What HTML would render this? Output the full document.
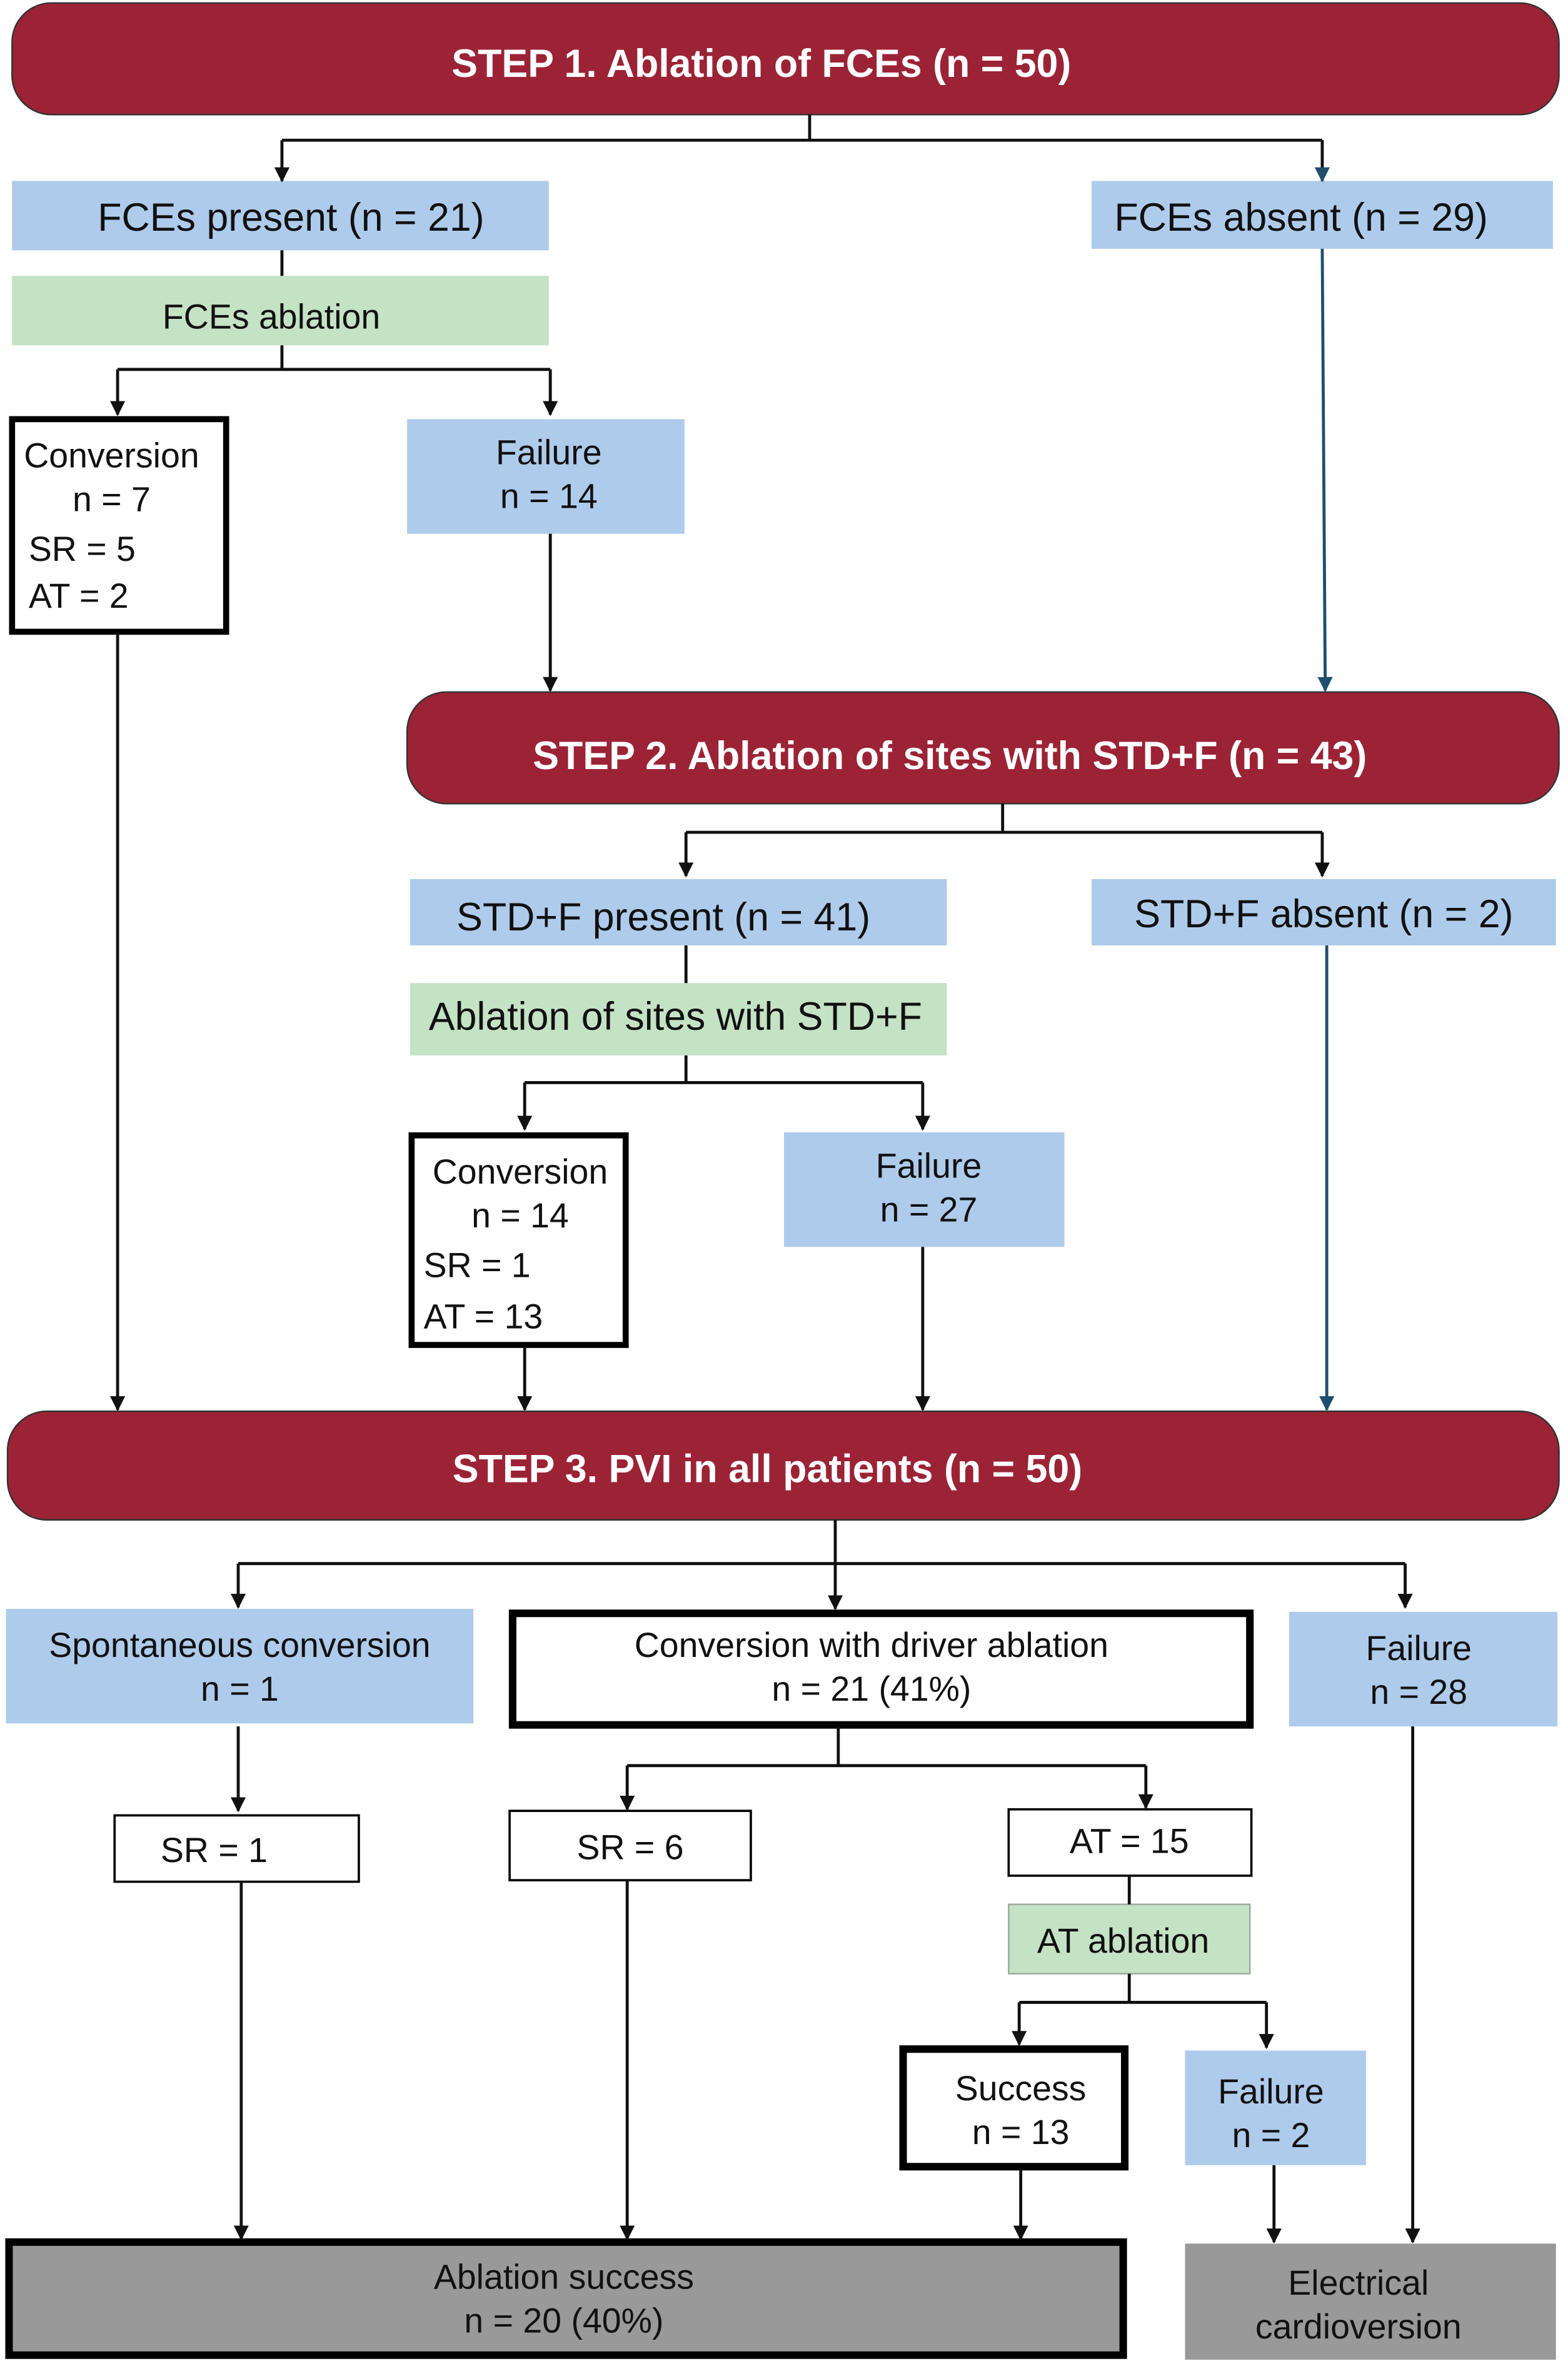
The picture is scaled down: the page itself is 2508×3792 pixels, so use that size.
<!DOCTYPE html>
<html><head><meta charset="utf-8"><style>
html,body{margin:0;padding:0;background:#fff;}
svg{display:block;}
text{font-family:"Liberation Sans",sans-serif;fill:#111;}
.w{fill:#fff;font-weight:bold;font-size:26px;}
.t{font-size:26px;}
.s{font-size:23px;}
.l{stroke:#111;stroke-width:2;fill:none;}
</style></head><body>
<svg width="2508" height="3792" viewBox="0 0 1040 1572.5" preserveAspectRatio="none" xmlns="http://www.w3.org/2000/svg">
<defs><marker id="a" viewBox="0 0 10 10" refX="9" refY="5" markerWidth="5" markerHeight="5" orient="auto"><path d="M0,0L10,5L0,10z" fill="#111"/></marker>
<marker id="b" viewBox="0 0 10 10" refX="9" refY="5" markerWidth="5" markerHeight="5" orient="auto"><path d="M0,0L10,5L0,10z" fill="#1f4e6e"/></marker></defs>
<g stroke="#333" stroke-width="1">
<rect x="8" y="2" width="1026" height="74" rx="26" fill="#9b2335"/>
<rect x="270" y="459" width="764" height="74" rx="26" fill="#9b2335"/>
<rect x="5" y="936" width="1029" height="72" rx="26" fill="#9b2335"/>
</g>
<text class="w" x="505" y="51" text-anchor="middle">STEP 1. Ablation of FCEs (n = 50)</text>
<text class="w" x="630" y="510" text-anchor="middle">STEP 2. Ablation of sites with STD+F (n = 43)</text>
<text class="w" x="509" y="983" text-anchor="middle">STEP 3. PVI in all patients  (n = 50)</text>
<g fill="#aecbeb">
<rect x="8" y="120" width="356" height="46"/><rect x="724" y="120" width="306" height="45"/>
<rect x="270" y="278" width="184" height="76"/>
<rect x="272" y="583" width="356" height="44"/><rect x="724" y="583" width="308" height="44"/>
<rect x="520" y="751" width="186" height="76"/>
<rect x="4" y="1067" width="310" height="76"/><rect x="855" y="1069" width="178" height="76"/>
<rect x="786" y="1360" width="120" height="76"/>
</g>
<g fill="#c4e2c4">
<rect x="8" y="183" width="356" height="46"/><rect x="272" y="652" width="356" height="48"/>
<rect x="669" y="1263" width="160" height="46" stroke="#9a9" stroke-width="1"/>
</g>
<g fill="#fff" stroke="#000">
<rect x="8" y="278" width="142" height="141" stroke-width="4"/>
<rect x="273" y="753" width="142" height="139" stroke-width="4"/>
<rect x="340" y="1070" width="489" height="74" stroke-width="5"/>
<rect x="76" y="1204" width="162" height="44" stroke-width="1.5"/>
<rect x="338" y="1201" width="160" height="46" stroke-width="1.5"/>
<rect x="669" y="1200" width="161" height="44" stroke-width="1.5"/>
<rect x="599" y="1359" width="147" height="78" stroke-width="5"/>
</g>
<rect x="6" y="1487" width="739" height="75" fill="#999" stroke="#000" stroke-width="5"/>
<rect x="786" y="1488" width="246" height="77" fill="#999"/>
<g class="l">
<path d="M537 76V93M187 93H877"/><path d="M187 93V120" marker-end="url(#a)"/><path d="M877 93V120" marker-end="url(#b)"/>
<path d="M187 166V183M187 229V245M78 245H365"/><path d="M78 245V275" marker-end="url(#a)"/><path d="M365 245V275" marker-end="url(#a)"/>
<path d="M365 354V458" marker-end="url(#a)"/><path d="M877 165L879 458" stroke="#1f4e6e" marker-end="url(#b)"/>
<path d="M665 533V552M455 552H877"/><path d="M455 552V581" marker-end="url(#a)"/><path d="M877 552V581" marker-end="url(#a)"/>
<path d="M455 627V652M455 700V718M348 718H612"/><path d="M348 718V749" marker-end="url(#a)"/><path d="M612 718V749" marker-end="url(#a)"/>
<path d="M78 420V935" marker-end="url(#a)"/><path d="M348 893V935" marker-end="url(#a)"/><path d="M612 827V935" marker-end="url(#a)"/><path d="M880 627V935" marker-end="url(#b)" stroke="#1f4e6e"/>
<path d="M554 1008V1067" marker-end="url(#a)"/><path d="M158 1037H932"/><path d="M158 1037V1066" marker-end="url(#a)"/><path d="M932 1037V1066" marker-end="url(#a)"/>
<path d="M158 1145V1201" marker-end="url(#a)"/>
<path d="M556 1145V1171M416 1171H760"/><path d="M416 1171V1200" marker-end="url(#a)"/><path d="M760 1171V1199" marker-end="url(#a)"/>
<path d="M749 1244V1263M749 1309V1328M676 1328H840"/><path d="M676 1328V1356" marker-end="url(#a)"/><path d="M840 1328V1358" marker-end="url(#a)"/>
<path d="M160 1248V1485" marker-end="url(#a)"/><path d="M416 1247V1485" marker-end="url(#a)"/><path d="M677 1438V1485" marker-end="url(#a)"/><path d="M845 1436V1487" marker-end="url(#a)"/><path d="M937 1145V1487" marker-end="url(#a)"/>
</g>
<g class="t" text-anchor="middle">
<text x="193" y="153">FCEs present (n = 21)</text><text x="863" y="153">FCEs absent (n = 29)</text>
<text x="180" y="218" class="s">FCEs ablation</text>
<text x="74" y="310" class="s">Conversion</text><text x="74" y="339" class="s">n = 7</text>
<text x="364" y="308" class="s">Failure</text><text x="364" y="337" class="s">n = 14</text>
<text x="440" y="617">STD+F present (n = 41)</text><text x="878" y="615">STD+F absent (n = 2)</text>
<text x="448" y="683">Ablation of sites with STD+F</text>
<text x="345" y="785" class="s">Conversion</text><text x="345" y="814" class="s">n = 14</text>
<text x="616" y="781" class="s">Failure</text><text x="616" y="810" class="s">n = 27</text>
<text x="159" y="1099" class="s">Spontaneous conversion</text><text x="159" y="1128" class="s">n = 1</text>
<text x="578" y="1099" class="s">Conversion with driver ablation</text><text x="578" y="1128" class="s">n = 21 (41%)</text>
<text x="941" y="1101" class="s">Failure</text><text x="941" y="1130" class="s">n = 28</text>
<text x="142" y="1235" class="s">SR = 1</text><text x="418" y="1233" class="s">SR = 6</text><text x="749" y="1229" class="s">AT = 15</text>
<text x="745" y="1295" class="s">AT ablation</text>
<text x="677" y="1393" class="s">Success</text><text x="677" y="1422" class="s">n = 13</text>
<text x="843" y="1395" class="s">Failure</text><text x="843" y="1424" class="s">n = 2</text>
<text x="374" y="1518" class="s">Ablation success</text><text x="374" y="1547" class="s">n = 20 (40%)</text>
<text x="901" y="1522" class="s">Electrical</text><text x="901" y="1551" class="s">cardioversion</text>
</g>
<g class="s">
<text x="19" y="372">SR = 5</text><text x="19" y="403">AT = 2</text>
<text x="281" y="847">SR = 1</text><text x="281" y="881">AT = 13</text>
</g>
</svg>
</body></html>
